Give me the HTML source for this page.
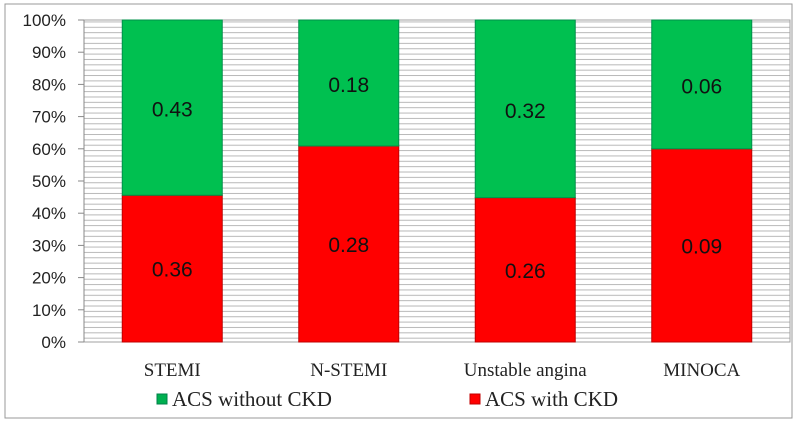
<!DOCTYPE html>
<html><head><meta charset="utf-8"><style>
body{margin:0;background:#fff;width:800px;height:426px;overflow:hidden;font-family:"Liberation Serif",serif}
</style></head><body>
<svg width="800" height="426">
<defs>
<pattern id="hs" width="6" height="5.36" patternUnits="userSpaceOnUse"><line x1="0" y1="0.5" x2="6" y2="0.5" stroke="#b8b8b8" stroke-width="1"/></pattern>
</defs>
<rect x="5" y="4" width="787" height="414" fill="#fff" stroke="#999"/>
<g id="plot"></g>
</svg>
<script>
const categories=["STEMI","N-STEMI","Unstable angina","MINOCA"];
const withCKD=[0.36,0.28,0.26,0.09];
const withoutCKD=[0.43,0.18,0.32,0.06];
const yTicks=["0%","10%","20%","30%","40%","50%","60%","70%","80%","90%","100%"];
const NS="http://www.w3.org/2000/svg";
const g=document.getElementById('plot');
const L=84,R=790,T=20,B=342;
const y=p=>B-(B-T)*p;
const band=(R-L)/categories.length;
const xc=i=>L+band*(i+0.5);
function mk(t,a,txt){const e=document.createElementNS(NS,t);for(const k in a)e.setAttribute(k,a[k]);if(txt!=null)e.textContent=txt;g.appendChild(e);return e;}
let bg=mk('rect',{x:L,y:T,width:R-L,height:B-T,fill:'url(#hs)',stroke:'#a0a0a0'});


let ax=mk('line',{x1:L,y1:T,x2:L,y2:B,stroke:'#888'});


yTicks.forEach((t,i)=>{const p=i/10;
 let tk=mk('line',{x1:L-6,x2:L,y1:y(p),y2:y(p),stroke:'#888'});
 
 
 let tl=mk('text',{x:L-18,y:y(p)+6,'text-anchor':'end','font-size':17,fill:'#222','font-family':'Liberation Sans, sans-serif'},t);
 
 
});
const bw=100;
categories.forEach((c,i)=>{
 const tot=withCKD[i]+withoutCKD[i];const pr=withCKD[i]/tot;const x=xc(i)-bw/2;
 let r1=mk('rect',{x:x,y:y(pr),width:bw,height:B-y(pr),fill:'#ff0000',stroke:'#c00000'});
 
 
 let r2=mk('rect',{x:x,y:T,width:bw,height:y(pr)-T,fill:'#00c050',stroke:'#00904a'});
 
 
 let l1=mk('text',{x:xc(i),y:(y(pr)+B)/2+8,'text-anchor':'middle','font-size':21,fill:'#111','font-family':'Liberation Sans, sans-serif'},withCKD[i].toFixed(2));
 
 
 let l2=mk('text',{x:xc(i),y:(y(pr)+T)/2+9,'text-anchor':'middle','font-size':21,fill:'#111','font-family':'Liberation Sans, sans-serif'},withoutCKD[i].toFixed(2));
 
 
 let cl=mk('text',{x:xc(i),y:376,'text-anchor':'middle','font-size':19,fill:'#222','font-family':'Liberation Serif, serif'},c);
 
 
});
let s1=mk('rect',{x:157,y:394,width:10,height:10,fill:'#00b050',stroke:'#00804a'});


let t1=mk('text',{x:172,y:406,'font-size':21,fill:'#222','font-family':'Liberation Serif, serif'},'ACS without CKD');


let s2=mk('rect',{x:470,y:394,width:10,height:10,fill:'#ff0000',stroke:'#c00000'});


let t2=mk('text',{x:485,y:406,'font-size':21,fill:'#222','font-family':'Liberation Serif, serif'},'ACS with CKD');


</script>
</body></html>
